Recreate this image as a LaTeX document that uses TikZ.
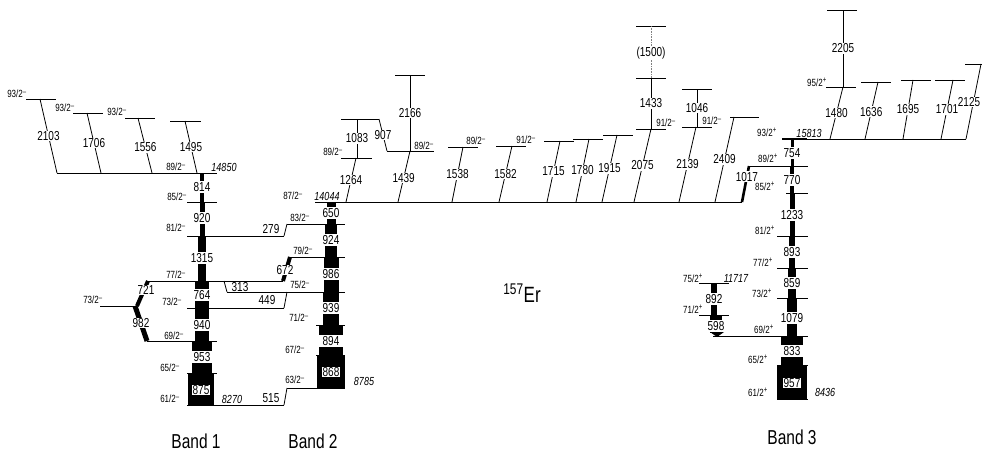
\documentclass[tikz,border=0pt]{standalone}
\usepackage{fontspec}
\setmainfont{Liberation Sans}
\newcommand{\Ts}[1]{\scalebox{1}[1.3]{#1}}
\newcommand{\mn}{\textsuperscript{--}}
\newcommand{\pl}{\textsuperscript{+}}
% vertical in-band gamma: x, ytop, ybot, width, label, ylabel
\newcommand{\gbar}[6]{%
  \fill (#1-#4/2,#2) rectangle (#1+#4/2,#3);
  \node[tl,inner ysep=1.3pt,minimum width=#4+1] (b#5) at (#1,#6) {\Ts{#5}};}
\newcommand{\gbox}[6]{%
  \fill (#1-#4/2,#2) rectangle (#1+#4/2,#3);
  \node[bx] (b#5) at (#1,#6) {\Ts{#5}};}
\begin{document}
\begin{tikzpicture}[x=1pt,y=-1pt,
  lev/.style={line width=0.9pt},
  gam/.style={line width=0.8pt},
  tl/.style={fill=white,inner xsep=0.7pt,inner ysep=0.8pt,font=\fontsize{10}{10}\selectfont},
  bx/.style={fill=white,draw=black,line width=0.4pt,inner sep=1pt,font=\fontsize{10}{10}\selectfont},
  sp/.style={inner sep=0pt,font=\fontsize{8}{8}\selectfont},
  en/.style={inner sep=0pt,font=\fontsize{9}{9}\selectfont\itshape},
  bl/.style={inner sep=0pt,font=\fontsize{15.5}{15.5}\selectfont}]
\useasboundingbox (0,0) rectangle (982,455);
\clip (0,0) rectangle (982,455);

% ---------------- levels: band 1 ----------------
\draw[lev] (57,173) -- (217,173);
\draw[lev] (187,202) -- (217,202);
\draw[lev] (187,236) -- (284,236);
\draw[lev] (148,281) -- (283,281);
\draw[lev] (187,308) -- (284,308);
\draw[lev] (100,306) -- (136,306);
\draw[lev] (147,341) -- (217,341);
\draw[lev] (187,373) -- (217,373);
\draw[lev] (187,405) -- (284,405);
\draw[lev] (26,99) -- (56,99);
\draw[lev] (73,113) -- (103,113);
\draw[lev] (125,118) -- (155,118);
\draw[lev] (170,121) -- (201,121);
% ---------------- levels: band 2 ----------------
\draw[lev] (315,202) -- (742,202);
\draw[lev] (287,224) -- (345,224);
\draw[lev] (290,257) -- (345,257);
\draw[lev] (227,292) -- (345,292);
\draw[lev] (316,325) -- (345,325);
\draw[lev] (316,355) -- (345,355);
\draw[lev] (287,388) -- (345,388);
\draw[lev] (341,158) -- (372,158);
\draw[lev] (341,119) -- (379,119);
\draw[lev] (387,151) -- (434,151);
\draw[lev] (395,75) -- (425,75);
% ---------------- levels: middle ----------------
\draw[lev] (448,147) -- (478,147);
\draw[lev] (496,146) -- (526,146);
\draw[lev] (544,141) -- (574,141);
\draw[lev] (573,139) -- (603,139);
\draw[lev] (603,135) -- (633,135);
\draw[lev] (636,129) -- (666,129);
\draw[lev] (636,78) -- (666,78);
\draw[lev] (636,26) -- (666,26);
\draw[lev] (682,127) -- (712,127);
\draw[lev] (682,89) -- (712,89);
\draw[lev] (730,117) -- (759,117);
% ---------------- levels: band 3 ----------------
\draw[lev] (782,139) -- (966,139);
\draw[line width=1.8pt] (782,139) -- (807,139);
\draw[lev] (748,166) -- (808,166);
\draw[lev] (786,193) -- (808,193);
\draw[lev] (777,236) -- (808,236);
\draw[lev] (777,268) -- (808,268);
\draw[lev] (777,298) -- (808,298);
\draw[lev] (713,336) -- (808,336);
\draw[lev] (777,365) -- (808,365);
\draw[lev] (777,399) -- (808,399);
\draw[lev] (699,283) -- (729,283);
\draw[lev] (699,315) -- (729,315);
\draw[lev] (826,87) -- (856,87);
\draw[lev] (827,10) -- (857,10);
\draw[lev] (861,82) -- (891,82);
\draw[lev] (901,80) -- (931,80);
\draw[lev] (935,80) -- (965,80);
\draw[lev] (965,64) -- (990,64);

% ---------------- thin transitions ----------------
\draw[gam] (40,99) -- (57,173) node[tl,pos=0.5] (t2103) {\Ts{2103}};
\draw[gam] (87,113) -- (101,173) node[tl,pos=0.5] (t1706) {\Ts{1706}};
\draw[gam] (138,118) -- (152,173) node[tl,pos=0.53] (t1556) {\Ts{1556}};
\draw[gam] (185,121) -- (197,173) node[tl,pos=0.5] (t1495) {\Ts{1495}};
\draw[gam] (356,158) -- (346,202) node[tl,pos=0.5] (t1264) {\Ts{1264}};
\draw[gam] (357,119) -- (357,158) node[tl,pos=0.5] (t1083) {\Ts{1083}};
\draw[gam] (379,119) -- (387,151) node[tl,pos=0.5] (t907) {\Ts{907}};
\draw[gam] (410,75) -- (410,151) node[tl,pos=0.5] (t2166) {\Ts{2166}};
\draw[gam] (410,151) -- (398,202) node[tl,pos=0.53] (t1439) {\Ts{1439}};
\draw[gam] (463,147) -- (452,202) node[tl,pos=0.5] (t1538) {\Ts{1538}};
\draw[gam] (512,146) -- (499,202) node[tl,pos=0.5] (t1582) {\Ts{1582}};
\draw[gam] (560,141) -- (547,202) node[tl,pos=0.5] (t1715) {\Ts{1715}};
\draw[gam] (589,139) -- (576,202) node[tl,pos=0.5] (t1780) {\Ts{1780}};
\draw[gam] (617,135) -- (602,202) node[tl,pos=0.5] (t1915) {\Ts{1915}};
\draw[gam] (651,129) -- (634,202) node[tl,pos=0.5] (t2075) {\Ts{2075}};
\draw[gam] (651,78) -- (651,129) node[tl,pos=0.5] (t1433) {\Ts{1433}};
\draw[line width=0.6pt,gray,densely dotted] (651,26) -- (651,78) node[tl,text=black,pos=0.52] (t1500) {\Ts{(1500)}};
\draw[gam] (696,127) -- (679,202) node[tl,pos=0.5] (t2139) {\Ts{2139}};
\draw[gam] (697,89) -- (697,127) node[tl,pos=0.5] (t1046) {\Ts{1046}};
\draw[gam] (734,117) -- (715,202) node[tl,pos=0.5] (t2409) {\Ts{2409}};
\draw[line width=2.6pt] (749,166) -- (742,202) node[tl,pos=0.3] (t1017) {\Ts{1017}};
\draw[gam] (843,87) -- (830,139) node[tl,pos=0.5] (t1480) {\Ts{1480}};
\draw[gam] (843,10) -- (843,87) node[tl,pos=0.5] (t2205) {\Ts{2205}};
\draw[gam] (878,82) -- (865,139) node[tl,pos=0.52] (t1636) {\Ts{1636}};
\draw[gam] (913,80) -- (903,139) node[tl,pos=0.5] (t1695) {\Ts{1695}};
\draw[gam] (953,80) -- (941,139) node[tl,pos=0.5] (t1701) {\Ts{1701}};
\draw[gam] (981,64) -- (966,139);
\node[tl] (t2125) at (969,102) {\Ts{2125}};

% ---------------- inter-band transitions ----------------
\draw[gam] (287,224) -- (284,236);
\node[tl,fill=none] (t279) at (271,229) {\Ts{279}};
\draw[gam] (224,281) -- (227,292);
\node[tl] (t313) at (240,287) {\Ts{313}};
\draw[gam] (287,292) -- (284,308);
\node[tl,fill=none] (t449) at (267,300) {\Ts{449}};
\draw[gam] (287,388) -- (284,405);
\node[tl,fill=none] (t515) at (271,398) {\Ts{515}};
\draw[line width=4pt] (290,257) -- (283,281);
\node[tl] (t672) at (285,270) {\Ts{672}};
\draw[line width=4pt] (148,281) -- (137,306);
\node[tl] (t721) at (146,290) {\Ts{721}};
\draw[line width=5pt] (135,306) -- (147,341);
\node[tl] (t982) at (141,323) {\Ts{982}};

% ---------------- band 1 cascade ----------------
\gbar{202}{173}{202}{4}{814}{187}
\gbar{202}{202}{236}{5}{920}{218}
\gbar{202}{236}{281}{8}{1315}{258}
\gbar{202}{281}{308}{14}{764}{295}
\gbar{202}{308}{341}{14}{940}{325}
\gbar{202}{341}{373}{20}{953}{357}
\gbox{201}{373}{405}{26}{875}{390}
% ---------------- band 2 cascade ----------------
\gbar{331}{202}{224}{9}{650}{213}
\gbar{331}{224}{257}{12}{924}{240}
\gbar{331}{257}{292}{15}{986}{274}
\gbar{331}{292}{325}{16}{939}{308}
\gbar{331}{325}{355}{24}{894}{341}
\gbox{331}{355}{388}{28}{868}{372}
% ---------------- band 3 cascade ----------------
\gbar{792}{139}{166}{3}{754}{153}
\gbar{792}{166}{193}{4}{770}{180}
\gbar{792}{193}{236}{5}{1233}{215}
\gbar{792}{236}{268}{6}{893}{252}
\gbar{792}{268}{298}{8}{859}{283}
\gbar{792}{298}{336}{10}{1079}{318}
\gbar{792}{336}{365}{22}{833}{351}
\gbox{792}{365}{399}{30}{957}{383}
\gbar{714}{283}{315}{6}{892}{299}
\gbar{716}{315}{333}{12}{598}{326}
\fill (710,332) -- (724,332) -- (717,337) -- cycle;

% ---------------- spin / energy labels ----------------
\node[sp] (s1) at (17,94) {\Ts{93/2\mn}};
\node[sp] (s2) at (65,108) {\Ts{93/2\mn}};
\node[sp] (s3) at (117,112) {\Ts{93/2\mn}};
\node[sp] (s4) at (176,167) {\Ts{89/2\mn}};
\node[en] (e1) at (224,167) {\Ts{14850}};
\node[sp] (s5) at (177,197) {\Ts{85/2\mn}};
\node[sp] (s6) at (176,228) {\Ts{81/2\mn}};
\node[sp] (s7) at (176,275) {\Ts{77/2\mn}};
\node[sp] (s8) at (93,300) {\Ts{73/2\mn}};
\node[sp] (s9) at (172,302) {\Ts{73/2\mn}};
\node[sp] (s10) at (174,336) {\Ts{69/2\mn}};
\node[sp] (s11) at (170,368) {\Ts{65/2\mn}};
\node[sp] (s12) at (170,399) {\Ts{61/2\mn}};
\node[en] (e2) at (232,399) {\Ts{8270}};

\node[sp] (s13) at (293,196) {\Ts{87/2\mn}};
\node[en] (e3) at (327,196) {\Ts{14044}};
\node[sp] (s14) at (300,218) {\Ts{83/2\mn}};
\node[sp] (s15) at (303,251) {\Ts{79/2\mn}};
\node[sp] (s16) at (300,285) {\Ts{75/2\mn}};
\node[sp] (s17) at (299,318) {\Ts{71/2\mn}};
\node[sp] (s18) at (295,350) {\Ts{67/2\mn}};
\node[sp] (s19) at (295,380) {\Ts{63/2\mn}};
\node[en] (e4) at (364,381) {\Ts{8785}};
\node[sp] (s20) at (333,152) {\Ts{89/2\mn}};
\node[sp] (s21) at (424,146) {\Ts{89/2\mn}};

\node[sp] (s22) at (476,141) {\Ts{89/2\mn}};
\node[sp] (s23) at (526,140) {\Ts{91/2\mn}};
\node[sp] (s24) at (666,123) {\Ts{91/2\mn}};
\node[sp] (s25) at (712,121) {\Ts{91/2\mn}};

\node[sp] (s26) at (767,132) {\Ts{93/2\pl}};
\node[en] (e5) at (809,133) {\Ts{15813}};
\node[sp] (s27) at (768,158) {\Ts{89/2\pl}};
\node[sp] (s28) at (765,186) {\Ts{85/2\pl}};
\node[sp] (s29) at (765,230) {\Ts{81/2\pl}};
\node[sp] (s30) at (763,262) {\Ts{77/2\pl}};
\node[sp] (s31) at (762,293) {\Ts{73/2\pl}};
\node[sp] (s32) at (764,329) {\Ts{69/2\pl}};
\node[sp] (s33) at (758,359) {\Ts{65/2\pl}};
\node[sp] (s34) at (758,392) {\Ts{61/2\pl}};
\node[en] (e6) at (825,392) {\Ts{8436}};
\node[sp] (s35) at (693,278) {\Ts{75/2\pl}};
\node[en] (e7) at (736,278) {\Ts{11717}};
\node[sp] (s36) at (693,309) {\Ts{71/2\pl}};
\node[sp] (s37) at (817,82) {\Ts{95/2\pl}};

% ---------------- titles ----------------
\node[inner sep=0pt,font=\fontsize{17}{17}\selectfont] (er) at (522,293) {\Ts{\textsuperscript{157}Er}};
\node[bl] (band1) at (196,441) {\Ts{Band 1}};
\node[bl] (band2) at (313,441) {\Ts{Band 2}};
\node[bl] (band3) at (792,437) {\Ts{Band 3}};
\end{tikzpicture}
\end{document}
